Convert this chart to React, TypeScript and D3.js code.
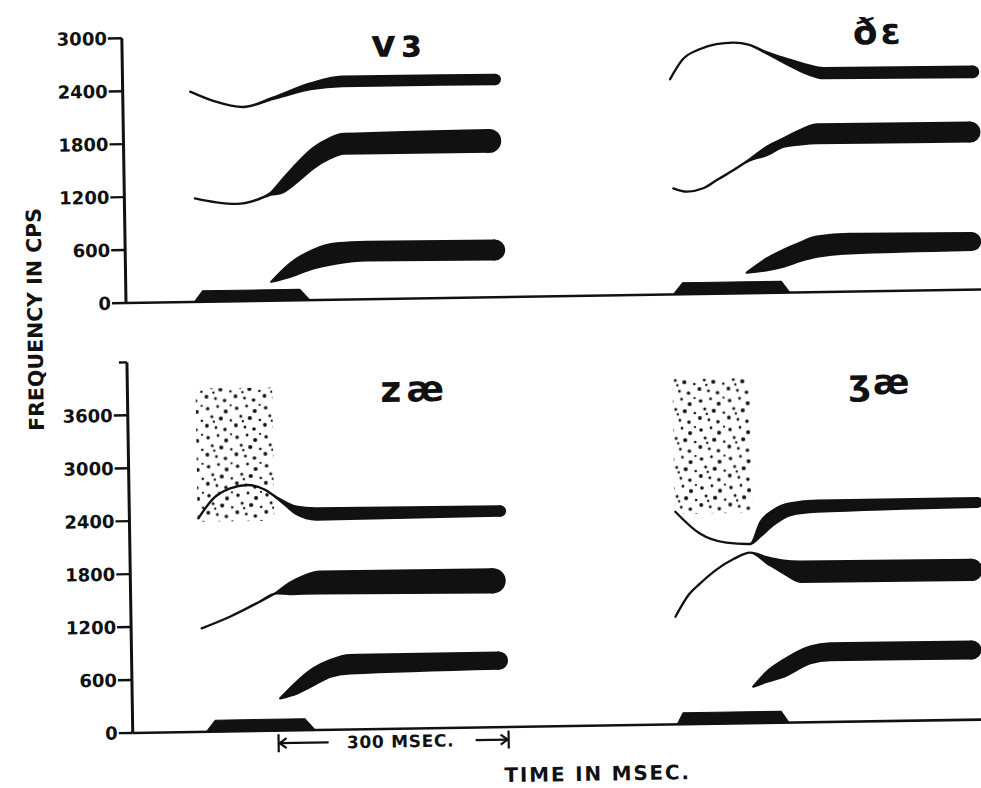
import React from 'react';
import * as d3 from 'd3';

// frequency ticks (cps) for the two panels
const TOP_TICKS = [0, 600, 1200, 1800, 2400, 3000];
const BOTTOM_TICKS = [0, 600, 1200, 1800, 2400, 3000, 3600];

// formant bands: [time ms, lower edge cps, upper edge cps]
// top panel, left: v-epsilon
const VE_F1 = [[190, 215, 215], [215, 270, 420], [245, 360, 568], [276, 412, 639], [315, 440, 650], [482, 430, 640]];
const VE_F2 = [[92, 1174, 1174], [120, 1125, 1125], [146, 1103, 1103], [175, 1150, 1155], [190, 1200, 1215], [204, 1216, 1347], [226, 1344, 1552], [247, 1493, 1720], [269, 1603, 1830], [287, 1655, 1877], [477, 1650, 1895]];
const VE_F3 = [[88, 2383, 2383], [120, 2268, 2268], [157, 2200, 2200], [196, 2285, 2300], [245, 2390, 2455], [286, 2420, 2525], [486, 2415, 2520]];
// top panel, right: eth-epsilon
const DE_F1 = [[810, 233, 233], [837, 259, 392], [858, 295, 484], [880, 356, 563], [902, 402, 629], [945, 434, 653], [1104, 451, 640]];
const DE_F2 = [[716, 1202, 1202], [734, 1162, 1162], [755, 1197, 1197], [773, 1288, 1288], [795, 1399, 1399], [816, 1503, 1515], [839, 1563, 1657], [861, 1655, 1750], [883, 1678, 1840], [905, 1688, 1900], [1104, 1680, 1893]];
const DE_F3 = [[714, 2439, 2439], [731, 2662, 2662], [753, 2773, 2773], [775, 2829, 2829], [797, 2842, 2842], [818, 2813, 2813], [840, 2716, 2728], [871, 2568, 2636], [893, 2474, 2576], [914, 2423, 2536], [1109, 2408, 2528]];
// bottom panel, left: z-ae
const ZAE_F1 = [[193, 366, 366], [215, 419, 551], [237, 511, 700], [259, 602, 791], [285, 637, 844], [479, 665, 845]];
const ZAE_F2 = [[92, 1173, 1173], [129, 1300, 1300], [164, 1446, 1446], [191, 1556, 1570], [208, 1546, 1674], [226, 1548, 1747], [247, 1548, 1794], [473, 1530, 1790]];
const ZAE_F3 = [[90, 2420, 2420], [110, 2644, 2644], [132, 2754, 2754], [154, 2789, 2789], [176, 2737, 2737], [197, 2605, 2620], [218, 2451, 2534], [244, 2385, 2512], [484, 2398, 2500]];
// bottom panel, right: ezh-ae
const ZHAE_F1 = [[810, 414, 414], [828, 467, 580], [850, 521, 710], [885, 669, 857], [911, 701, 891], [1096, 697, 885]];
const ZHAE_F2 = [[710, 1220, 1220], [718, 1340, 1340], [728, 1470, 1470], [743, 1594, 1594], [765, 1750, 1750], [787, 1864, 1864], [809, 1932, 1932], [831, 1808, 1876], [852, 1693, 1836], [874, 1594, 1821], [1097, 1584, 1811]];
const ZHAE_F3 = [[712, 2410, 2410], [743, 2161, 2161], [778, 2050, 2050], [809, 2031, 2031], [823, 2120, 2281], [840, 2246, 2411], [862, 2352, 2485], [897, 2385, 2510], [1106, 2412, 2510]];

// voice bars: [time ms, height cps]
const VE_VOICE = [[89, 0], [100, 125], [227, 125], [240, 0]];
const DE_VOICE = [[714, 0], [726, 130], [855, 130], [866, 0]];
const ZAE_VOICE = [[96, 0], [108, 130], [225, 130], [238, 0]];
const ZHAE_VOICE = [[710, 0], [718, 130], [846, 130], [856, 0]];

// fricative noise: [start ms, end ms, low cps, high cps]
const ZAE_NOISE = [89, 189, 2380, 3890];
const ZHAE_NOISE = [711, 813, 2385, 3915];

// syllable labels
const TOP_LABELS = ['vɜ', 'ðɛ'];
const BOTTOM_LABELS = ['zæ', 'ʒæ'];

// 300 msec marker [start ms, end ms]
const MARKER = [190, 490];

const W = 981;
const H = 788;
const FONT = "'DejaVu Sans', sans-serif";

const x = d3.scaleLinear().domain([0, 1115]).range([126, 981]);
const yTop = d3.scaleLinear().domain([0, 3000]).range([303, 38.25]);
const yBot = d3.scaleLinear().domain([0, 4200]).range([733, 362.35]);

type Scale = d3.ScaleLinear<number, number>;

function Band({ pts, y }: { pts: number[][]; y: Scale }) {
  const area = d3.area<number[]>()
    .x(d => x(d[0]))
    .y0(d => y(d[1]))
    .y1(d => y(d[2]))
    .curve(d3.curveMonotoneX);
  const last = pts[pts.length - 1];
  const r = (y(last[1]) - y(last[2])) / 2;
  return (
    <g>
      <path d={area(pts) || ''} fill="#111" stroke="#111" strokeWidth={2.3} strokeLinejoin="round" strokeLinecap="round" />
      <circle cx={x(last[0])} cy={(y(last[1]) + y(last[2])) / 2} r={r + 1.15} fill="#111" />
    </g>
  );
}

function Voice({ pts, y }: { pts: number[][]; y: Scale }) {
  const area = d3.area<number[]>()
    .x(d => x(d[0]))
    .y0(y(0))
    .y1(d => y(d[1]));
  return <path d={area(pts) || ''} fill="#111" stroke="#111" strokeWidth={1} strokeLinejoin="round" />;
}

function Noise({ n, y }: { n: number[]; y: Scale }) {
  return (
    <rect x={x(n[0])} y={y(n[3])} width={x(n[1]) - x(n[0])} height={y(n[2]) - y(n[3])} fill="url(#noise)" />
  );
}

function Axis({ y, ticks, top, showTop }: { y: Scale; ticks: number[]; top: number; showTop: boolean }) {
  const x0 = x(0);
  return (
    <g>
      <line x1={x0} x2={x(1160)} y1={y(0)} y2={y(0)} stroke="#111" strokeWidth={2.6} />
      <line x1={x0} x2={x0} y1={y(0)} y2={y(top)} stroke="#111" strokeWidth={3} />
      {!showTop && <line x1={x0 - 8} x2={x0} y1={y(top)} y2={y(top)} stroke="#111" strokeWidth={2.4} />}
      {ticks.map(t => (
        <g key={t}>
          <line x1={x0 - 14} x2={x0} y1={y(t)} y2={y(t)} stroke="#111" strokeWidth={2.4} />
          <text x={x0 - 15} y={y(t)} dy="0.36em" textAnchor="end" fontFamily={FONT} fontWeight="bold" fontSize={18} fill="#111">
            {t}
          </text>
        </g>
      ))}
    </g>
  );
}

export default function App() {
  // texture of the noise patches (one tile)
  const dots = [
    [3, 4, 1.8], [13, 2, 1.4], [21, 7, 2.0], [7, 12, 1.5], [16, 14, 2.1], [26, 16, 1.3],
    [2, 21, 1.9], [11, 23, 1.4], [20, 25, 1.8], [26, 1, 1.1], [9, 17, 1.2],
  ];
  const ay = 745.5;
  const m0 = x(MARKER[0]);
  const m1 = x(MARKER[1]);
  const lab = { fontFamily: FONT, fontWeight: 'bold' as const, fill: '#111' };
  return (
    <svg width={W} height={H} style={{ position: 'absolute', left: 0, top: 0, display: 'block', background: '#fff' }}>
      <defs>
        <pattern id="noise" width={29} height={29} patternUnits="userSpaceOnUse">
          {dots.map((d, i) => <circle key={i} cx={d[0]} cy={d[1]} r={d[2]} fill="#111" />)}
        </pattern>
      </defs>
      <rect width={W} height={H} fill="#fff" />
      <g transform="rotate(-0.9, 126, 303)">
        {/* top panel */}
        <Axis y={yTop} ticks={TOP_TICKS} top={3000} showTop={true} />
        {[VE_F1, VE_F2, VE_F3, DE_F1, DE_F2, DE_F3].map((p, i) => <Band key={i} pts={p} y={yTop} />)}
        <Voice pts={VE_VOICE} y={yTop} />
        <Voice pts={DE_VOICE} y={yTop} />
        <text x={375} y={61} fontSize={38} letterSpacing={5} {...lab}>{TOP_LABELS[0]}</text>
        <text x={857} y={56} fontSize={36} letterSpacing={3} {...lab}>{TOP_LABELS[1]}</text>

        {/* bottom panel */}
        <Noise n={ZAE_NOISE} y={yBot} />
        <Noise n={ZHAE_NOISE} y={yBot} />
        <Axis y={yBot} ticks={BOTTOM_TICKS} top={4200} showTop={false} />
        {[ZAE_F1, ZAE_F2, ZAE_F3, ZHAE_F1, ZHAE_F2, ZHAE_F3].map((p, i) => <Band key={i} pts={p} y={yBot} />)}
        <Voice pts={ZAE_VOICE} y={yBot} />
        <Voice pts={ZHAE_VOICE} y={yBot} />
        <text x={379} y={406} fontSize={36} letterSpacing={5} {...lab}>{BOTTOM_LABELS[0]}</text>
        <text x={847} y={406} fontSize={35} letterSpacing={2} {...lab}>{BOTTOM_LABELS[1]}</text>

        {/* 300 msec marker */}
        <g stroke="#111" strokeWidth={2.2} fill="none">
          <line x1={m0} x2={m0} y1={ay - 9} y2={ay + 9} />
          <line x1={m0} x2={m0 + 50} y1={ay} y2={ay} />
          <polyline points={`${m0 + 8},${ay - 5} ${m0 + 1},${ay} ${m0 + 8},${ay + 5}`} />
          <line x1={m1} x2={m1} y1={ay - 9} y2={ay + 9} />
          <line x1={m1 - 33} x2={m1} y1={ay} y2={ay} />
          <polyline points={`${m1 - 8},${ay - 5} ${m1 - 1},${ay} ${m1 - 8},${ay + 5}`} />
        </g>
        <text x={(m0 + m1) / 2 + 7} y={ay} dy="0.36em" textAnchor="middle" fontSize={17} letterSpacing={0.7} {...lab}>
          300 MSEC.
        </text>

        {/* axis titles */}
        <text x={497} y={788} fontSize={20} letterSpacing={1.8} {...lab}>TIME IN MSEC.</text>
        <text transform="translate(42, 318) rotate(-90)" textAnchor="middle" fontSize={20.5} {...lab}>
          FREQUENCY IN CPS
        </text>
      </g>
    </svg>
  );
}
